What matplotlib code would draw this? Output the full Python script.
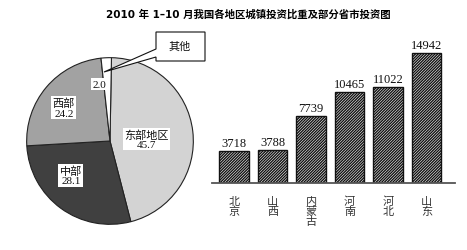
import matplotlib
matplotlib.use("Agg")
import matplotlib.pyplot as plt
from matplotlib.patches import Polygon

plt.rcParams['font.family'] = ['Liberation Serif', 'Noto Sans CJK SC', 'DejaVu Sans']
plt.rcParams['hatch.linewidth'] = 1.0

# ---- data ----
title = "2010 年 1–10 月我国各地区城镇投资比重及部分省市投资图"
region_names = ["东部地区", "中部", "西部", "其他"]
region_shares = [45.7, 28.1, 24.2, 2.0]
region_colors = ["#d3d3d3", "#404040", "#a2a2a2", "#ffffff"]

provinces = ["北京", "山西", "内蒙古", "河南", "河北", "山东"]
investments = [3718, 3788, 7739, 10465, 11022, 14942]

W, H = 467, 251
fig = plt.figure(figsize=(W / 100, H / 100), dpi=100)
fig.patch.set_facecolor("white")

def px_axes(x0, y0, x1, y1):
    return fig.add_axes([x0 / W, (H - y1) / H, (x1 - x0) / W, (y1 - y0) / H])

# ---- title ----
fig.text(248 / W, 1 - 14 / H, title, ha="center", va="center", fontsize=7.5,
         fontweight="bold", family=["DejaVu Sans", "Noto Sans CJK SC"])

# ---- pie ----
cx, cy, r = 110, 142, 85
pax = px_axes(cx - r, cy - r, cx + r, cy + r)
pax.pie(region_shares, colors=region_colors, startangle=89, counterclock=False,
        radius=1.0, wedgeprops=dict(edgecolor="#222222", linewidth=0.8))
pax.set_xlim(-1.02, 1.02)
pax.set_ylim(-1.02, 1.02)
pax.set_aspect("equal")
pax.axis("off")

def pie_label(px, py, s):
    pax.text((px - cx) / r, (cy - py) / r, s, ha="center", va="center",
             fontsize=8, linespacing=1.05, color="#111111",
             bbox=dict(boxstyle="square,pad=0.12", facecolor="white", edgecolor="none"))

pie_label(147, 140, f"{region_names[0]}\n{region_shares[0]:.1f}")
pie_label(70, 177, f"{region_names[1]}\n{region_shares[1]:.1f}")
pie_label(63, 108, f"{region_names[2]}\n{region_shares[2]:.1f}")
pie_label(99, 84, f"{region_shares[3]:.1f}")

# ---- callout for 其他 ----
oax = fig.add_axes([0, 0, 1, 1], facecolor="none")
oax.set_xlim(0, W)
oax.set_ylim(H, 0)
oax.axis("off")
callout = Polygon([(156, 33), (205, 33), (205, 62), (156, 62), (156, 58),
                   (104, 73), (156, 50)], closed=True, facecolor="white",
                  edgecolor="#111111", linewidth=0.8)
oax.add_patch(callout)
oax.text(180, 47, region_names[3], ha="center", va="center", fontsize=8, color="#111111")

# ---- bars ----
bax = px_axes(212, 40, 455, 184)
x = list(range(len(provinces)))
bars = bax.bar(x, investments, width=0.76, color="white", edgecolor="#111111",
               hatch="////////////", linewidth=1.0)
bax.set_xlim(-0.57, 5.74)
bax.set_ylim(0, 16550)
for i, v in zip(x, investments):
    bax.annotate(str(v), (i, v), xytext=(0, 1.5), textcoords="offset points",
                 ha="center", va="bottom", fontsize=9, color="#111111")
bax.set_xticks(x)
bax.set_xticklabels(["\n".join(p) for p in provinces], fontsize=8,
                    linespacing=1.05, color="#333333", va="top")
bax.tick_params(axis="x", length=0, pad=9)
bax.set_yticks([])
for s in ["top", "right", "left"]:
    bax.spines[s].set_visible(False)
bax.spines["bottom"].set_color("#555555")
bax.spines["bottom"].set_linewidth(1.3)
bax.set_facecolor("none")

fig.savefig("out.png", dpi=100, facecolor="white")
